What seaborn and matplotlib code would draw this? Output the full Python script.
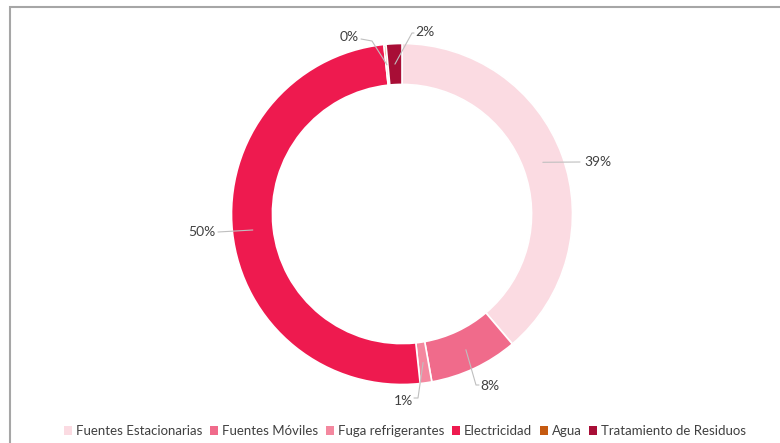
import numpy as np
import matplotlib
matplotlib.use("Agg")
import matplotlib.pyplot as plt
from matplotlib.patches import Patch, Rectangle
import seaborn as sns

categories = ["Fuentes Estacionarias", "Fuentes Móviles", "Fuga refrigerantes",
              "Electricidad", "Agua", "Tratamiento de Residuos"]
values = [38.8, 8.4, 1.1, 50.0, 0.2, 1.5]
labels = ["39%", "8%", "1%", "50%", "0%", "2%"]
colors = ["#FBDBE2", "#F06B8B", "#F4889F", "#EE1A4F", "#C55A11", "#A80E36"]

sns.set_theme(style="white")
plt.rcParams["font.family"] = ["Lato", "DejaVu Sans"]

W, H = 780, 443
fig = plt.figure(figsize=(W / 100, H / 100), dpi=100)
ax = fig.add_axes([0, 0, 1, 1])
cx, cy, R = 402, 214, 170.5

ring = 0.24
wedges, _ = ax.pie(values, colors=colors, startangle=90, counterclock=False,
                   radius=1.0, wedgeprops=dict(width=ring, edgecolor="white", linewidth=1.2))
ax.set_xlim(-cx / R, (W - cx) / R)
ax.set_ylim(-(H - cy) / R, cy / R)
ax.set_aspect("equal")
ax.axis("off")

def px(x, y):
    return ((x - cx) / R, (cy - y) / R)

# label text positions (pixels) and elbow points (pixels)
text_pos = [(598, 162), (490, 386), (403, 401), (202, 232), (349, 37), (425, 32)]
elbows = [None, (476, 385), (418, 398), None, (372, 41), (412, 33)]
line_col = "#BFBFBF"
rmid = 1 - ring / 2
for w, lab, tp, el in zip(wedges, labels, text_pos, elbows):
    ang = np.deg2rad((w.theta1 + w.theta2) / 2)
    sx, sy = rmid * np.cos(ang), rmid * np.sin(ang)
    tx, ty = px(*tp)
    if lab == "39%":
        pts = [(sx, sy), px(tp[0] - 18, tp[1])]
    elif lab == "50%":
        pts = [(sx, sy), px(tp[0] + 16, tp[1])]
    else:
        pts = [(sx, sy), px(*el)]
        if lab == "8%":
            pts.append(px(tp[0] - 11, tp[1] - 1))
        elif lab == "1%":
            pts.append(px(tp[0] + 11, tp[1] - 3))
        elif lab == "0%":
            pts.append(px(tp[0] + 12, tp[1] + 2))
        elif lab == "2%":
            pts.append(px(tp[0] - 11, tp[1] + 1))
    xs, ys = zip(*pts)
    ax.plot(xs, ys, color=line_col, lw=0.8, zorder=3)
    ax.text(tx, ty, lab, ha="center", va="center", fontsize=10, color="#404040")

# chart border
fig.patches.append(Rectangle((10 / W, -0.1), 1.2, 1 - 7 / H + 0.1, transform=fig.transFigure,
                             fill=False, edgecolor="#A6A6A6", linewidth=1.5))

handles = [Patch(facecolor=c, edgecolor="none") for c in colors]
fig.legend(handles, categories, loc="center", bbox_to_anchor=(405 / W, 1 - 431 / H),
           ncol=6, frameon=False, fontsize=9.5, handlelength=0.6, handleheight=0.6,
           handletextpad=0.3, columnspacing=0.6, labelcolor="#404040")

fig.savefig("out.png", dpi=100)
